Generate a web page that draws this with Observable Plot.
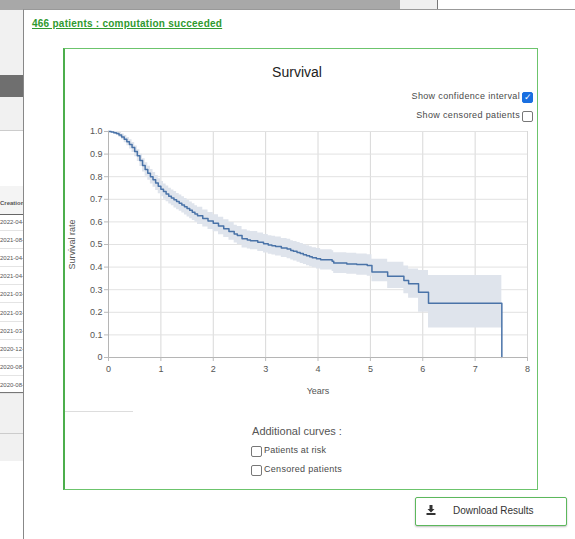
<!DOCTYPE html>
<html>
<head>
<meta charset="utf-8">
<script src="https://cdn.jsdelivr.net/npm/d3@7"></script>
<script src="https://cdn.jsdelivr.net/npm/@observablehq/plot@0.6"></script>
<style>
  html, body { margin: 0; padding: 0; background: #fff; }
  body { width: 575px; height: 539px; position: relative; overflow: hidden; font-family: "Liberation Sans", Arial, sans-serif; }
  .abs { position: absolute; }
  .cb { position: absolute; width: 9px; height: 9px; border: 1px solid #777; border-radius: 2px; background: #fff; box-sizing: content-box; }
  .cb.on { background: #1a6fe0; border-color: #1a6fe0; color: #fff; font-size: 9px; line-height: 9px; text-align: center; }
  .small { font-size: 9px; color: #4a4a4a; white-space: nowrap; letter-spacing: 0.35px; }
  .row { position: absolute; left: 0; font-size: 6px; color: #555; white-space: nowrap; }
</style>
</head>
<body>
<!-- background page -->
<div class="abs" style="left:0;top:0;width:400px;height:10px;background:#a8a8a8"></div>
<div class="abs" style="left:400px;top:0;width:37px;height:10px;background:#f0f0f0;border-right:1px solid #777"></div>
<div class="abs" style="left:0;top:10px;width:24px;height:65px;background:#f1f1f1"></div>
<div class="abs" style="left:0;top:75px;width:24px;height:22px;background:#6f6f6f"></div>
<div class="abs" style="left:0;top:97px;width:24px;height:33px;background:#f1f1f1;border-bottom:1px solid #ccc"></div>
<div class="abs" style="left:0;top:186px;width:24px;height:28px;background:#f4f4f4;border-bottom:1px solid #666"></div>
<div class="abs" style="left:0;top:392px;width:24px;height:68px;background:#f1f1f1;border-top:1px solid #777"></div>
<div class="abs" style="left:0;top:433px;width:24px;height:1px;background:#ccc"></div>
<div id="table"></div>

<!-- modal -->
<div class="abs" style="left:23px;top:9px;width:560px;height:540px;background:#fff;border-left:1px solid #888;border-top:1px solid #999"></div>
<div class="abs" style="left:32px;top:18px;font-size:10px;font-weight:bold;color:#2f9a2f;text-decoration:underline;white-space:nowrap;letter-spacing:0.25px">466 patients : computation succeeded</div>

<!-- green panel -->
<div class="abs" style="left:63px;top:48px;width:472px;height:440px;border:1px solid #6cc46c;border-left:2px solid #4cae4c"></div>
<div class="abs" style="left:197px;top:64px;width:200px;text-align:center;font-size:14px;color:#222">Survival</div>
<div class="abs small" style="right:55px;top:91px">Show confidence interval</div>
<div class="cb on" style="left:522px;top:92px">&#10003;</div>
<div class="abs small" style="right:55px;top:110px">Show censored patients</div>
<div class="cb" style="left:522px;top:111px"></div>

<div id="chart" class="abs" style="left:64px;top:120px"></div>

<div class="abs" style="left:65px;top:411px;width:68px;height:1px;background:#ddd"></div>
<div class="abs" style="left:197px;top:425px;width:200px;text-align:center;font-size:11px;color:#555">Additional curves :</div>
<div class="cb" style="left:251px;top:446px"></div>
<div class="abs small" style="left:264px;top:445px;letter-spacing:0.2px">Patients at risk</div>
<div class="cb" style="left:251px;top:465px"></div>
<div class="abs small" style="left:264px;top:464px;letter-spacing:0.3px">Censored patients</div>

<!-- button -->
<div class="abs" style="left:415px;top:497px;width:150px;height:27px;border:1px solid #5cb85c;border-radius:2px;box-shadow:0 1px 2px rgba(0,0,0,0.25);background:#fff"></div>
<svg class="abs" style="left:426px;top:505px" width="10" height="10" viewBox="0 0 10 10">
  <path d="M3.5 0 H6.5 V4 H8.5 L5 7.5 L1.5 4 H3.5 Z" fill="#333"/>
  <rect x="0.5" y="8" width="9" height="2" fill="#333"/>
</svg>
<div class="abs" style="left:453px;top:505px;font-size:10px;color:#333;white-space:nowrap">Download Results</div>

<script>
// ---- data: Kaplan-Meier estimate ----
const years = [0.00, 0.05, 0.10, 0.15, 0.20, 0.25, 0.30, 0.35, 0.40, 0.45, 0.50, 0.55, 0.60, 0.65, 0.70,
  0.75, 0.80, 0.85, 0.90, 0.95, 1.00, 1.05, 1.10, 1.15, 1.20, 1.25, 1.30, 1.35, 1.40, 1.45, 1.50, 1.55, 1.60, 1.65, 1.70,
  1.80, 1.90, 2.00, 2.10, 2.20, 2.30, 2.40,
  2.46, 2.55, 2.65, 2.71, 2.85, 2.96,
  3.05, 3.12, 3.19, 3.30, 3.41, 3.48, 3.53, 3.60, 3.66, 3.72, 3.78, 3.84, 3.89, 3.97, 4.05,
  4.27, 4.30, 4.55, 4.74, 4.94,
  5.03, 5.33, 5.64, 5.73, 5.92, 6.11, 7.51];
const survival = [1.000, 0.998, 0.995, 0.991, 0.985, 0.976, 0.966, 0.955, 0.943, 0.929, 0.912, 0.893, 0.872, 0.850, 0.832,
  0.815, 0.800, 0.786, 0.772, 0.758, 0.745, 0.734, 0.724, 0.714, 0.706, 0.698, 0.690, 0.683, 0.675, 0.667, 0.659, 0.651, 0.643, 0.635, 0.627,
  0.615, 0.604, 0.594, 0.582, 0.570, 0.558, 0.546,
  0.540, 0.525, 0.520, 0.517, 0.510, 0.503,
  0.498, 0.495, 0.491, 0.485, 0.480, 0.474, 0.470, 0.465, 0.460, 0.455, 0.450, 0.446, 0.441, 0.437, 0.432,
  0.426, 0.418, 0.414, 0.411, 0.407,
  0.378, 0.360, 0.341, 0.326, 0.289, 0.240, 0.000];
const lowerCI = [1.000, 0.994, 0.988, 0.982, 0.974, 0.963, 0.950, 0.937, 0.923, 0.907, 0.888, 0.867, 0.845, 0.821, 0.802,
  0.784, 0.768, 0.753, 0.739, 0.725, 0.711, 0.700, 0.689, 0.679, 0.671, 0.662, 0.654, 0.647, 0.639, 0.630, 0.622, 0.614, 0.606, 0.598, 0.589,
  0.577, 0.566, 0.556, 0.543, 0.531, 0.519, 0.507,
  0.500, 0.485, 0.480, 0.477, 0.469, 0.462,
  0.457, 0.453, 0.449, 0.443, 0.437, 0.431, 0.427, 0.421, 0.416, 0.411, 0.406, 0.402, 0.397, 0.392, 0.387,
  0.381, 0.372, 0.368, 0.364, 0.360,
  0.335, 0.305, 0.282, 0.262, 0.200, 0.130, 0.000];
const upperCI = [1.000, 1.000, 1.000, 0.999, 0.996, 0.989, 0.982, 0.973, 0.963, 0.951, 0.936, 0.919, 0.899, 0.879, 0.862,
  0.846, 0.832, 0.819, 0.805, 0.791, 0.779, 0.768, 0.759, 0.749, 0.741, 0.734, 0.726, 0.719, 0.711, 0.704, 0.696, 0.688, 0.680, 0.672, 0.665,
  0.653, 0.642, 0.632, 0.621, 0.609, 0.597, 0.585,
  0.580, 0.565, 0.560, 0.557, 0.551, 0.544,
  0.539, 0.537, 0.533, 0.527, 0.523, 0.517, 0.513, 0.509, 0.504, 0.499, 0.494, 0.490, 0.486, 0.482, 0.477,
  0.472, 0.464, 0.461, 0.458, 0.455,
  0.435, 0.422, 0.405, 0.392, 0.385, 0.363, 0.000];
const xTicks = [0, 1, 2, 3, 4, 5, 6, 7, 8];
const yTicks = [0, 0.1, 0.2, 0.3, 0.4, 0.5, 0.6, 0.7, 0.8, 0.9, 1.0];
const yTickLabels = ["0", "0.1", "0.2", "0.3", "0.4", "0.5", "0.6", "0.7", "0.8", "0.9", "1.0"];
const tableDates = ["2022-04-", "2021-08-", "2021-04-", "2021-04-", "2021-03-", "2021-03-", "2021-03-", "2020-12-", "2020-08-", "2020-08-"];

// background table rows (partly hidden behind the modal)
const tbl = document.getElementById("table");
const hdr = document.createElement("div");
hdr.className = "row"; hdr.style.top = "200px"; hdr.style.fontWeight = "bold"; hdr.textContent = "Creation";
tbl.appendChild(hdr);
tableDates.forEach((d, i) => {
  const r = document.createElement("div");
  r.className = "row"; r.style.top = (219 + i * 18.1) + "px"; r.textContent = d;
  tbl.appendChild(r);
  const l = document.createElement("div");
  l.className = "abs"; l.style.cssText = `left:0;top:${230 + i * 18.1}px;width:24px;height:1px;background:#e4e4e4`;
  tbl.appendChild(l);
});

const rows = years.map((t, i) => ({t, s: survival[i], lo: lowerCI[i], hi: upperCI[i]}));

const chart = Plot.plot({
  width: 470,
  height: 290,
  marginLeft: 44,
  marginTop: 11,
  marginRight: 7,
  marginBottom: 53,
  style: {fontFamily: "'Liberation Sans', Arial, sans-serif", fontSize: "9px", color: "#555", background: "transparent"},
  x: {domain: [0, 8]},
  y: {domain: [0, 1]},
  marks: [
    Plot.gridX(xTicks, {stroke: "#d8d8d8", strokeOpacity: 1}),
    Plot.gridY(yTicks, {stroke: "#e2e2e2", strokeOpacity: 1}),
    Plot.areaY(rows, {x: "t", y1: "lo", y2: "hi", curve: "step-after", fill: "#dfe4ec", fillOpacity: 1}),
    Plot.lineY(rows, {x: "t", y: "s", curve: "step-after", stroke: "#4a73a8", strokeWidth: 1.5}),
    Plot.ruleX([0], {stroke: "#b5b5b5"}),
    Plot.ruleY([0], {stroke: "#b5b5b5"}),
    Plot.axisX(xTicks, {tickSize: 4, tickPadding: 4, stroke: "#bbb", label: "Years", labelAnchor: "center", labelArrow: "none", labelOffset: 36}),
    Plot.axisY(yTicks, {tickSize: 4, tickPadding: 2, stroke: "#bbb", tickFormat: (d) => yTickLabels[yTicks.indexOf(d)], label: "Survival rate", labelAnchor: "center", labelArrow: "none", labelOffset: 40})
  ]
});
document.getElementById("chart").appendChild(chart);
</script>
</body>
</html>
